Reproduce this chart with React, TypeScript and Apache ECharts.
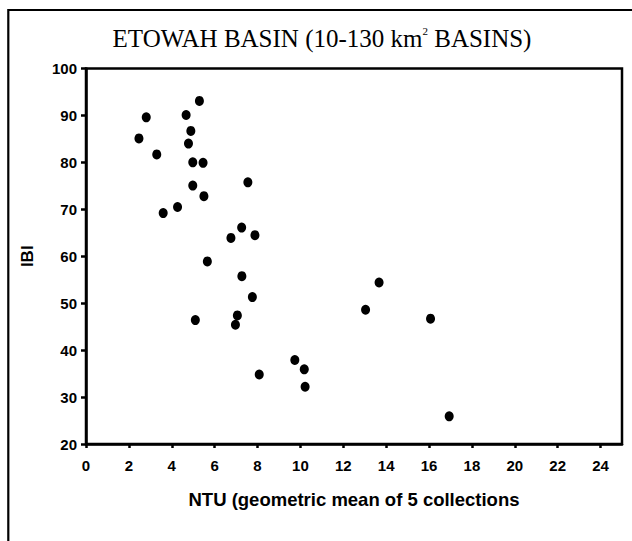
import React, { useEffect, useRef } from "react";
import * as echarts from "echarts";

const ntu: number[] = [
  5.29, 2.81, 4.67, 4.89, 2.47, 4.78, 3.30, 4.98, 5.46, 7.55, 4.98, 5.50, 4.27, 3.60, 7.26, 7.88,
  6.76, 5.66, 7.27, 7.76, 5.10, 7.06, 6.97, 9.74, 10.18, 8.08, 10.22, 13.67, 13.04, 16.07, 16.94,
];
const ibi: number[] = [
  93.1, 89.6, 90.1, 86.7, 85.1, 84.0, 81.7, 80.0, 79.9, 75.75, 75.05, 72.8, 70.5, 69.2, 66.1, 64.5,
  63.9, 58.9, 55.75, 51.3, 46.4, 47.4, 45.4, 37.9, 35.9, 34.8, 32.2, 54.4, 48.6, 46.7, 25.9,
];
const xTicks: number[] = [0, 2, 4, 6, 8, 10, 12, 14, 16, 18, 20, 22, 24];
const titleText = "ETOWAH BASIN (10-130 km{sup|2} BASINS)";
const xName = "NTU (geometric mean of 5 collections";
const yName = "IBI";

const sansFont = "'Liberation Sans', Arial, sans-serif";

export default function App() {
  const ref = useRef<HTMLDivElement>(null);
  useEffect(() => {
    if (!ref.current) return;
    const chart = echarts.init(ref.current, undefined, { renderer: "svg" });
    const points = ntu.map((x, i) => [x, ibi[i]]);
    chart.setOption({
      animation: false,
      backgroundColor: "#fff",
      grid: {
        left: 86,
        top: 68.5,
        right: 10,
        bottom: 97,
        show: true,
        borderColor: "#000",
        borderWidth: 2.5,
        backgroundColor: "transparent",
      },
      graphic: [
        {
          type: "rect",
          shape: { x: 8.3, y: 10, width: 700, height: 700 },
          style: { fill: "none", stroke: "#000", lineWidth: 2.2 },
          silent: true,
        },
        {
          type: "text",
          x: 322,
          y: 38,
          style: {
            text: titleText,
            fontFamily: "'Liberation Serif', 'Times New Roman', serif",
            fontSize: 25,
            fill: "#000",
            align: "center",
            verticalAlign: "middle",
            rich: {
              sup: {
                fontFamily: "'Liberation Serif', 'Times New Roman', serif",
                fontSize: 11,
                verticalAlign: "top",
                fill: "#000",
              },
            },
          },
        },
      ],
      xAxis: {
        type: "value",
        min: 0,
        max: 25,
        interval: 2,
        name: xName,
        nameLocation: "middle",
        nameGap: 46,
        nameTextStyle: {
          fontFamily: sansFont,
          fontWeight: "bold",
          fontSize: 18.5,
          color: "#000",
        },
        splitLine: { show: false },
        axisLine: { show: true, onZero: false, lineStyle: { color: "#000", width: 2.5 } },
        axisTick: {
          show: true,
          length: 4,
          inside: false,
          customValues: xTicks,
          lineStyle: { color: "#000", width: 2.5 },
        },
        axisLabel: {
          customValues: xTicks,
          margin: 14,
          fontFamily: sansFont,
          fontWeight: "bold",
          fontSize: 15,
          color: "#000",
        },
      },
      yAxis: {
        type: "value",
        min: 20,
        max: 100,
        interval: 10,
        name: yName,
        nameLocation: "middle",
        nameRotate: 90,
        nameGap: 50,
        nameTextStyle: {
          fontFamily: sansFont,
          fontWeight: "bold",
          fontSize: 17,
          color: "#000",
        },
        splitLine: { show: false },
        axisLine: { show: true, onZero: false, lineStyle: { color: "#000", width: 2.5 } },
        axisTick: { show: true, length: 5, inside: false, lineStyle: { color: "#000", width: 2.5 } },
        axisLabel: {
          margin: 9,
          fontFamily: sansFont,
          fontWeight: "bold",
          fontSize: 15,
          color: "#000",
        },
      },
      series: [
        {
          type: "scatter",
          data: points,
          symbol: "circle",
          symbolSize: [9, 10],
          itemStyle: { color: "#000", opacity: 1 },
          emphasis: { disabled: true },
        },
      ],
    });
    return () => chart.dispose();
  }, []);
  return (
    <div
      ref={ref}
      style={{ position: "fixed", left: 0, top: 0, width: 632, height: 541, background: "#fff" }}
    />
  );
}
